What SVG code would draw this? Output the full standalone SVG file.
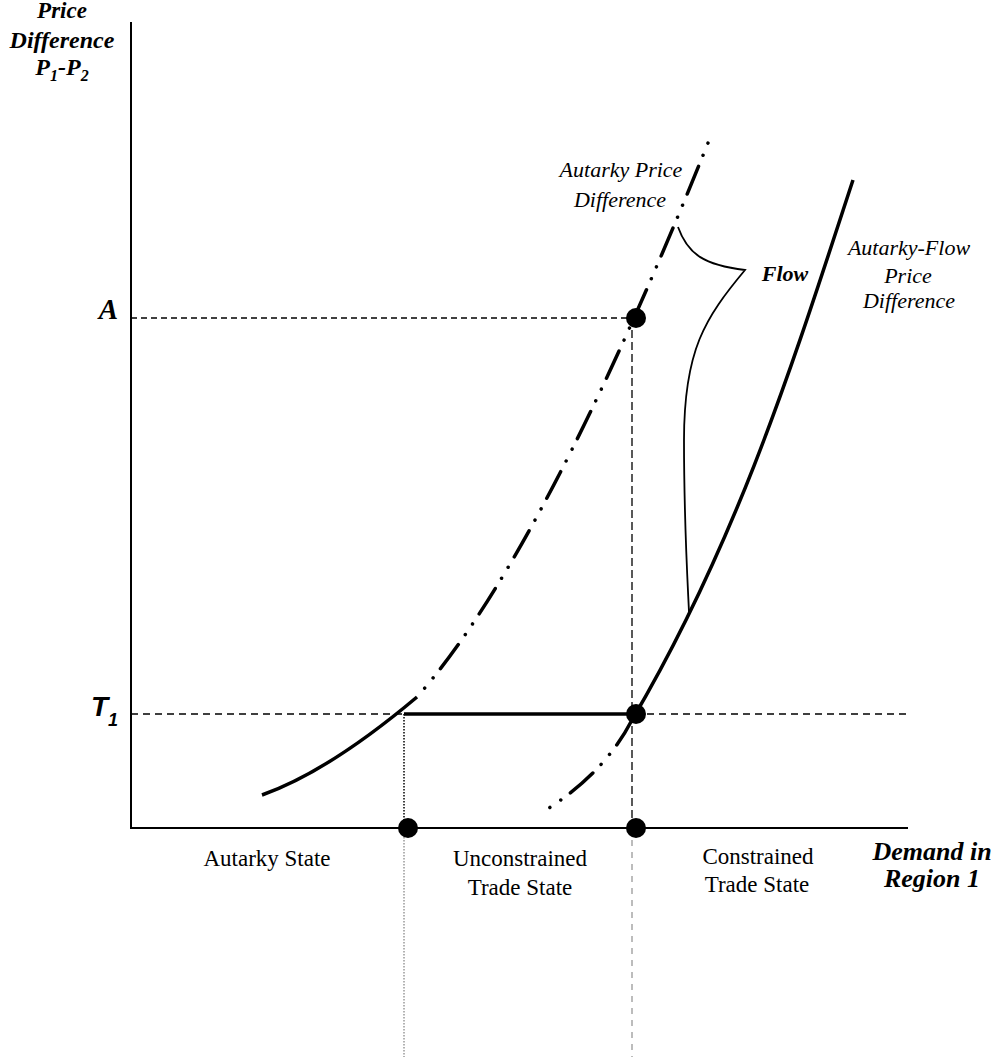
<svg xmlns="http://www.w3.org/2000/svg" width="997" height="1057" viewBox="0 0 997 1057">
<style>
.bi{font-family:"Liberation Serif","Times New Roman",serif;font-weight:bold;font-style:italic;fill:#000}
.it{font-family:"Liberation Serif","Times New Roman",serif;font-style:italic;fill:#000}
.rg{font-family:"Liberation Serif","Times New Roman",serif;fill:#000}
.sans{font-family:"Liberation Sans",Arial,sans-serif;font-weight:bold;font-style:italic;fill:#000}
.axis{stroke:#000;stroke-width:2;fill:none}
.guide{stroke:#000;stroke-width:1.3;fill:none}
.thick{stroke:#000;stroke-width:3.5;fill:none}
.ddot{stroke:#000;stroke-width:3.5;fill:none;stroke-dasharray:30 12 0.01 13 0.01 12;stroke-linecap:round}
.thin{stroke:#000;stroke-width:1.8;fill:none}
.dot{fill:#000}
</style>
<rect width="997" height="1057" fill="#fff"/>
<g id="connectors">
<line class="guide" x1="131" y1="318" x2="628" y2="318" stroke-dasharray="6 4"/>
<line class="guide" x1="131" y1="714" x2="908" y2="714" stroke-dasharray="7 5"/>
<line class="guide" x1="632" y1="318" x2="632" y2="828" stroke-dasharray="8 4"/>
<line x1="632" y1="828" x2="632" y2="1057" stroke="#999" stroke-width="1.3" stroke-dasharray="6 6"/>
<line x1="404" y1="714" x2="404" y2="828" stroke="#000" stroke-width="1.5" stroke-dasharray="1.5 1.5"/>
<line x1="404" y1="828" x2="404" y2="1057" stroke="#999" stroke-width="1.5" stroke-dasharray="1.5 1.5"/>
<line class="thick" x1="404" y1="714" x2="636" y2="714"/>
<path class="thick" d="M262,795 C310,778 360,745 417,697"/>
<path class="ddot" stroke-dashoffset="30" d="M417,697 Q543,555 712,133"/>
<path class="ddot" stroke-dashoffset="41" d="M549,808 Q605,772 632,720"/>
<path class="thick" d="M632,720 C738,540 794,360 853,180"/>
<path class="thin" d="M678,227 C688,255 705,265 745,270 C705,318 684,350 684,440 C684,520 687,570 689,612"/>
<line class="axis" x1="131" y1="22" x2="131" y2="829"/>
<line class="axis" x1="130" y1="828" x2="908" y2="828"/>
</g>
<g id="points">
<circle class="dot" cx="636" cy="318" r="10"/>
<circle class="dot" cx="636" cy="714" r="10"/>
<circle class="dot" cx="408" cy="828" r="10"/>
<circle class="dot" cx="636" cy="828" r="10"/>
</g>
<g id="y-axis-label">
<text class="bi" font-size="23" text-anchor="middle" x="62" y="18">Price</text>
<text class="bi" font-size="24" text-anchor="middle" x="62" y="48">Difference</text>
<text class="bi" font-size="24" text-anchor="middle" x="62" y="75">P<tspan font-size="16" dy="6">1</tspan><tspan dy="-6">-P</tspan><tspan font-size="16" dy="6">2</tspan></text>
</g>
<g id="label-A"><text class="bi" font-size="29" text-anchor="end" x="118" y="319">A</text></g>
<g id="label-T1"><text class="sans" font-size="28" x="91" y="716">T<tspan font-size="18" dy="10">1</tspan></text></g>
<g id="autarky-label">
<text class="it" font-size="22" text-anchor="middle" x="621" y="177">Autarky Price</text>
<text class="it" font-size="22" text-anchor="middle" x="620" y="207">Difference</text>
</g>
<g id="flow-label"><text class="bi" font-size="22" text-anchor="middle" x="785" y="281">Flow</text></g>
<g id="autarky-flow-label">
<text class="it" font-size="22" text-anchor="middle" x="909" y="255">Autarky-Flow</text>
<text class="it" font-size="22" text-anchor="middle" x="908" y="283">Price</text>
<text class="it" font-size="22" text-anchor="middle" x="909" y="308">Difference</text>
</g>
<g id="autarky-state"><text class="rg" font-size="23" text-anchor="middle" x="267" y="866">Autarky State</text></g>
<g id="unconstrained-state">
<text class="rg" font-size="23" text-anchor="middle" x="520" y="866">Unconstrained</text>
<text class="rg" font-size="23" text-anchor="middle" x="520" y="895">Trade State</text>
</g>
<g id="constrained-state">
<text class="rg" font-size="23" text-anchor="middle" x="758" y="864">Constrained</text>
<text class="rg" font-size="23" text-anchor="middle" x="757" y="892">Trade State</text>
</g>
<g id="x-axis-label">
<text class="bi" font-size="26" text-anchor="middle" x="932" y="860">Demand in</text>
<text class="bi" font-size="26" text-anchor="middle" x="932" y="887">Region 1</text>
</g>
</svg>
